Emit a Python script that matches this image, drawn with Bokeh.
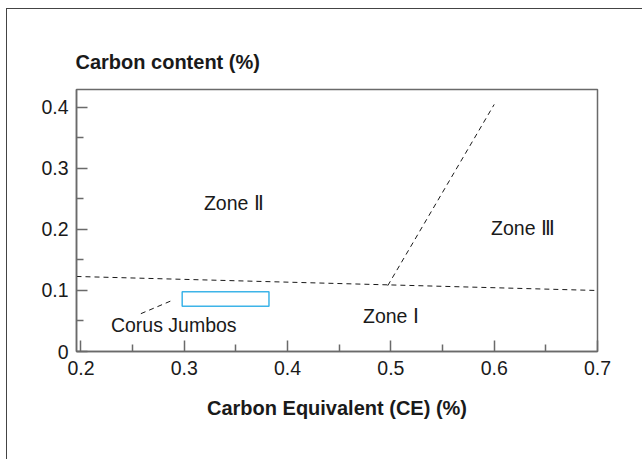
from bokeh.plotting import figure
from bokeh.layouts import column
from bokeh.models import FixedTicker, Range1d
from bokeh.core.properties import value
from bokeh.embed import file_html
from bokeh.resources import INLINE

# ---- data ----
x_ticks = [0.2, 0.3, 0.4, 0.5, 0.6, 0.7]
x_tick_labels = ["0.2", "0.3", "0.4", "0.5", "0.6", "0.7"]
x_minor = [0.25, 0.35, 0.45, 0.55, 0.65]
y_ticks = [0.0, 0.1, 0.2, 0.3, 0.4]
y_tick_labels = ["0", "0.1", "0.2", "0.3", "0.4"]
y_minor = [0.05, 0.15, 0.25, 0.35]

# boundary lines between zones
boundary_ce_x = [0.1957, 0.7]
boundary_ce_y = [0.123, 0.100]
boundary_z3_x = [0.497, 0.600]
boundary_z3_y = [0.108, 0.405]

# Corus Jumbos box and its leader
jumbo_left, jumbo_right = [0.298], [0.382]
jumbo_bottom, jumbo_top = [0.074], [0.098]
leader_x = [0.258, 0.290]
leader_y = [0.062, 0.085]

zone_labels = ["Zone \u2161", "Zone \u2162", "Zone \u2160", "Corus Jumbos"]
zone_x = [0.319, 0.597, 0.473, 0.229]
zone_y = [0.244, 0.202, 0.059, 0.043]

FONT = "Liberation Sans"
INK = "#1a1a1a"
GREY = "#6a6a6a"

p = figure(width=635, height=450, output_backend="svg", toolbar_location=None,
           x_range=Range1d(0.1957, 0.7), y_range=Range1d(0, 0.4295),
           min_border_left=69, min_border_right=45, min_border_top=80,
           min_border_bottom=108, title="Carbon content (%)")

p.background_fill_color = "white"
p.border_fill_color = "white"
p.grid.visible = False
p.outline_line_color = GREY
p.outline_line_width = 1.5

p.title.text_font = FONT
p.title.text_font_size = "20px"
p.title.text_font_style = "bold"
p.title.text_color = INK
p.title.align = "left"
p.title.offset = -1
p.title.standoff = 33

for ax in (p.xaxis[0], p.yaxis[0]):
    ax.axis_line_color = GREY
    ax.axis_line_width = 1.5
    ax.major_tick_line_color = GREY
    ax.minor_tick_line_color = GREY
    ax.major_tick_line_width = 1.5
    ax.minor_tick_line_width = 1.5
    ax.major_tick_in = 11
    ax.major_tick_out = 0
    ax.minor_tick_in = 7
    ax.minor_tick_out = 0
    ax.major_label_text_font = FONT
    ax.major_label_text_font_size = "19.5px"
    ax.major_label_text_color = INK

p.xaxis.ticker = FixedTicker(ticks=x_ticks, minor_ticks=x_minor)
p.xaxis.major_label_overrides = dict(zip(x_ticks, x_tick_labels))
p.xaxis.major_label_standoff = 9
p.xaxis.axis_label = "Carbon Equivalent (CE) (%)"
p.xaxis.axis_label_text_font = FONT
p.xaxis.axis_label_text_font_size = "20px"
p.xaxis.axis_label_text_font_style = "bold"
p.xaxis.axis_label_text_color = INK
p.xaxis.axis_label_standoff = 19

p.yaxis.ticker = FixedTicker(ticks=y_ticks, minor_ticks=y_minor)
p.yaxis.major_label_overrides = dict(zip(y_ticks, y_tick_labels))
p.yaxis.major_label_standoff = 8

p.line(boundary_ce_x, boundary_ce_y, line_color=INK, line_width=1, line_dash="5 4")
p.line(boundary_z3_x, boundary_z3_y, line_color=INK, line_width=1, line_dash="5 4")
p.line(leader_x, leader_y, line_color=INK, line_width=1, line_dash="5 4")
p.quad(left=jumbo_left, right=jumbo_right, bottom=jumbo_bottom, top=jumbo_top,
       fill_alpha=0, line_color="#3db4e8", line_width=1.5)

p.text(x=zone_x, y=zone_y, text=zone_labels, text_font=value(FONT),
       text_font_size="19.5px", text_color=INK, text_align="left",
       text_baseline="middle")

page = column(p, margin=(8, 0, 0, 6),
              styles={"border-left": "1px solid #444444",
                      "border-top": "1px solid #444444"})

open("out.html", "w").write(file_html(page, INLINE))
